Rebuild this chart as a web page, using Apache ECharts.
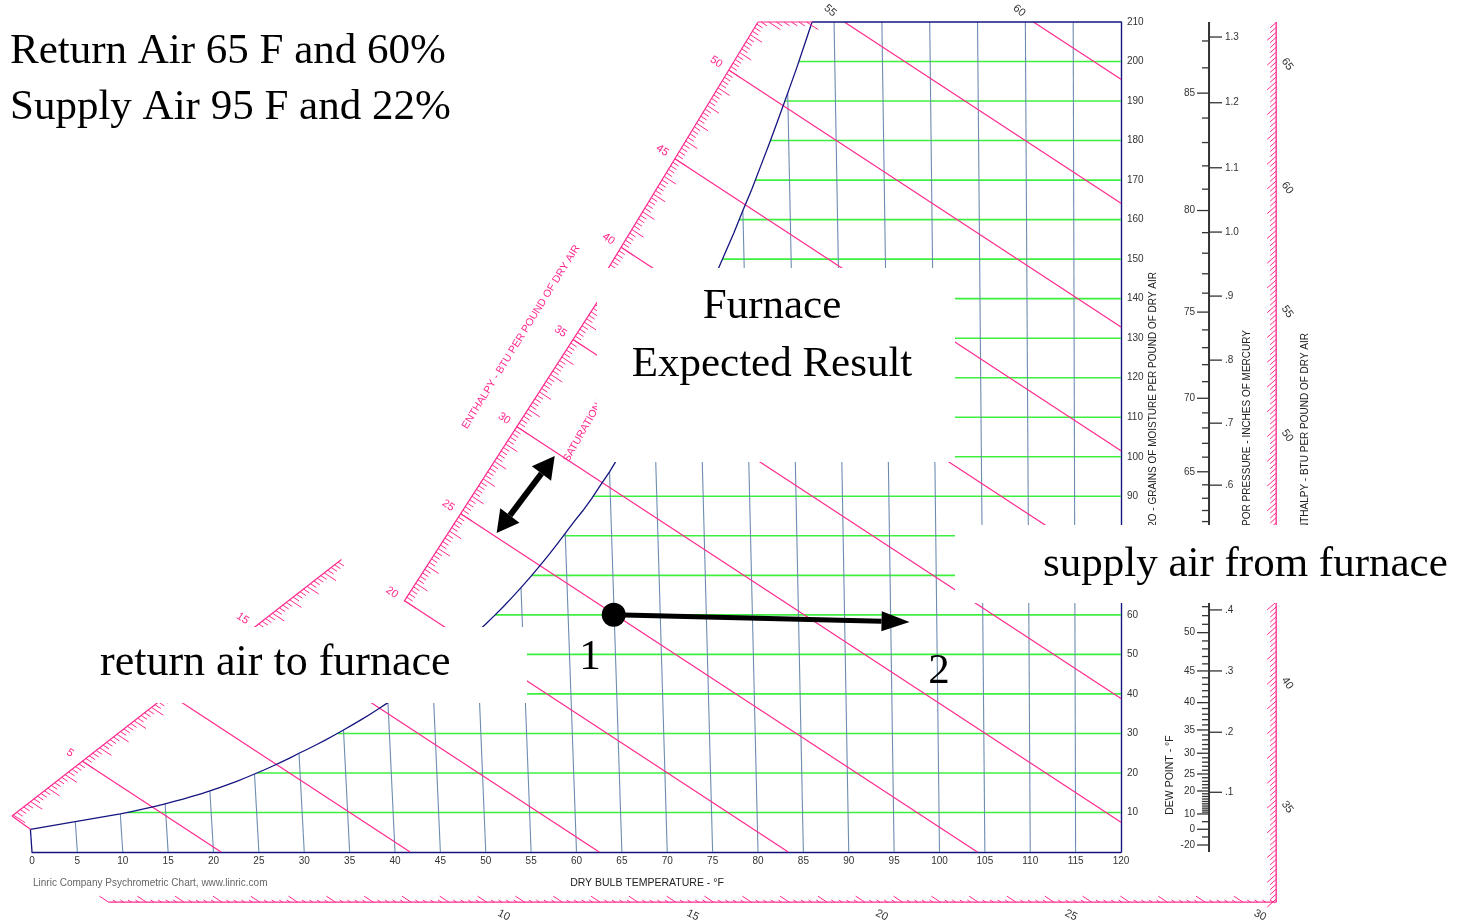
<!DOCTYPE html>
<html><head><meta charset="utf-8">
<script src="https://cdn.jsdelivr.net/npm/echarts@6/dist/echarts.min.js"></script>
<style>html,body{margin:0;padding:0;background:#fff}#c{width:1462px;height:922px}</style>
</head><body><div id="c"></div>
<script>
// ------------------------- DATA -------------------------
const dryBulbTicks = [0,5,10,15,20,25,30,35,40,45,50,55,60,65,70,75,80,85,90,95,100,105,110,115,120];
const grainTicks = [10,20,30,40,50,60,70,80,90,100,110,120,130,140,150,160,170,180,190,200,210];
const dryBulbLines = [5,10,15,20,25,30,35,40,45,50,55,60,65,70,75,80,85,90,95,100,105,110,115];
const grainLines = [10,20,30,40,50,60,70,80,90,100,110,120,130,140,150,160,170,180,190,200];
const enthalpyLines = [5,10,15,20,25,30,35,40,45,50,55,60];
const enthalpyScaleLabels = [5,10,15,20,25,30,35,40,45,50];
const enthalpyTopLabels = [55,60];
const enthalpyRightLabels = [35,40,45,50,55,60,65];
const enthalpyBottomLabels = [10,15,20,25,30];
// saturation (dew point) temperatures and saturation grains
const satTemps = [-20,-10,0,5,10,11,12,13,14,15,16,17,18,19,20,21,22,23,24,25,26,27,28,29,30,31,32,33,34,35,36,37,38,39,40,41,42,43,44,45,46,47,48,49,50,51,52,53,54,55,56,57,58,59,60,61,62,63,64,65,66,67,68,69,70,71,72,73,74,75,76,77,78,79,80,81,82,83,84,85,86,87];
const satGrains = [1.77,3.80,5.75,7.67,9.62,10.09,10.58,11.09,11.63,12.19,12.78,13.40,14.05,14.73,15.44,16.22,17.03,17.89,18.79,19.74,20.69,21.69,22.73,23.83,24.98,26.06,27.19,28.37,29.60,30.88,32.15,33.48,34.86,36.29,37.79,39.27,40.81,42.41,44.07,45.81,47.60,49.46,51.39,53.40,55.50,57.61,59.80,62.07,64.43,66.88,69.42,72.06,74.80,77.64,80.59,83.6,86.4,89.5,92.9,96.2,99.9,103.4,107.3,111.1,114.8,119.0,123.3,127.6,132.1,136.6,141.4,146.3,151.5,156.7,162.3,167.7,173.6,179.5,185.7,192.0,198.4,205.2];
const satTop = [87.7, 210];
const dewLabels = [-20,0,10,20,25,30,35,40,45,50,55,60,65,70,75,80,85];
const vaporLabels = ['.1','.2','.3','.4','.5','.6','.7','.8','.9','1.0','1.1','1.2','1.3'];
const vaporGrains = [15.11,30.30,45.81,61.25,76.9,92.81,108.50,124.45,140.65,156.85,173.12,189.57,206.20];
// enthalpy scale segments (dry bulb axis units, grains)
const enthalpyScaleSegments = [
  [[-2.2, 9.1],[34.1, 74.0]],
  [[41.0, 63.4],[63.6, 143.8]],
  [[63.4, 147.3],[80.0, 210]],
  [[80.0, 210],[86.0, 210]]
];
const rightScaleDB = 137.1, bottomScaleGrains = -12.7, vaporScaleDB = 129.7;
// annotation states
const returnAir = [64.1, 60.0];
const supplyArrowEnd = [96.7, 58.2];
const doubleArrow = [[51.2, 80.7],[57.6, 100.2]];

// ------------------------- GEOMETRY -------------------------
const K_ENTH = 0.665;   // dry-bulb units per grain along an enthalpy line
const LEAN = 0.000257;  // lean of dry bulb lines
const dbPoint = (T, W) => [T - LEAN * (120 - T) * W, W];
const enthAtW = (h, W) => [h / 0.24 - K_ENTH * W, W];
const hOf = p => 0.24 * (p[0] + K_ENTH * p[1]);

const PINK = '#ff2a8f', GREEN = '#3ef03e', BLUE = '#6d8db0', NAVY = '#141480', DARK = '#333';
const SANS = '"Liberation Sans", Arial, sans-serif';
const SERIF = '"Liberation Serif", "Times New Roman", serif';

function satPoints() {
  const pts = [];
  satTemps.forEach((T, i) => { if (T >= 0) pts.push(dbPoint(T, satGrains[i])); });
  pts.push(dbPoint(satTop[0], satTop[1]));
  return pts;
}
function satXAt(pts, g) {
  for (let i = 0; i < pts.length - 1; i++) {
    const a = pts[i], b = pts[i + 1];
    if (a[1] <= g && b[1] >= g) { const t = (g - a[1]) / (b[1] - a[1]); return a[0] + t * (b[0] - a[0]); }
  }
  return pts[pts.length - 1][0];
}
function scalePoint(h) {
  for (const s of enthalpyScaleSegments) {
    const h0 = hOf(s[0]), h1 = hOf(s[1]);
    if (h >= h0 - 1e-6 && h <= h1 + 1e-6) {
      const t = (h - h0) / (h1 - h0);
      return [s[0][0] + t * (s[1][0] - s[0][0]), s[0][1] + t * (s[1][1] - s[0][1])];
    }
  }
  return null;
}
function helpers(api) {
  const ch = [];
  const C = p => api.coord(p);
  const L = (a, b, s, w) => ch.push({ type: 'line', silent: true, shape: { x1: a[0], y1: a[1], x2: b[0], y2: b[1] }, style: { stroke: s, lineWidth: w } });
  const T = (x, y, text, fill, rot, align, valign, size) => ch.push({ type: 'text', silent: true, x: x, y: y, rotation: rot || 0,
    style: { text: String(text), fill: fill, font: (size || 10) + 'px ' + SANS, textAlign: align || 'center', textVerticalAlign: valign || 'middle' } });
  return { ch, C, L, T };
}
function enthDir(C) {
  const a = C(enthAtW(30, 0)), b = C(enthAtW(30, 40));
  const dx = a[0] - b[0], dy = a[1] - b[1], n = Math.hypot(dx, dy);
  return [dx / n, dy / n];
}

function renderGrid(params, api) {
  const { ch, C, L } = helpers(api);
  const pts = satPoints();
  grainLines.forEach(g => L(C([satXAt(pts, g), g]), C([120, g]), GREEN, 1.6));
  dryBulbLines.forEach(Tdb => {
    const i = satTemps.indexOf(Tdb);
    const W = (i >= 0) ? Math.min(satGrains[i], 210) : 210;
    L(C([Tdb, 0]), C(dbPoint(Tdb, W)), BLUE, 1.1);
  });
  enthalpyLines.forEach(h => {
    const start = scalePoint(h) || enthAtW(h, 210);
    const w120 = (h / 0.24 - 120) / K_ENTH;
    const end = w120 >= 0 ? [120, w120] : [h / 0.24, 0];
    L(C(start), C(end), PINK, 1.2);
  });
  ch.push({ type: 'polyline', silent: true, shape: { points: pts.map(C) }, style: { stroke: NAVY, lineWidth: 1.3, fill: null } });
  L(C([0, 0]), C(pts[0]), NAVY, 1.3);
  L(C(pts[pts.length - 1]), C([120, 210]), NAVY, 1.3);
  return { type: 'group', children: ch };
}

function renderScales(params, api) {
  const { ch, C, L, T } = helpers(api);
  const d = enthDir(C);
  const pts = satPoints();
  // left enthalpy scale
  enthalpyScaleSegments.forEach(seg => {
    const p0 = seg[0], p1 = seg[1];
    L(C(p0), C(p1), PINK, 1.2);
    const h0 = hOf(p0), h1 = hOf(p1);
    for (let k = Math.ceil(h0 * 5 - 1e-6); k <= Math.floor(h1 * 5 + 1e-6); k++) {
      const t = (k / 5 - h0) / (h1 - h0);
      const p = C([p0[0] + t * (p1[0] - p0[0]), p0[1] + t * (p1[1] - p0[1])]);
      const len = k % 5 === 0 ? 14 : 7;
      L(p, [p[0] + d[0] * len, p[1] + d[1] * len], PINK, 1);
    }
  });
  L(C(enthalpyScaleSegments[0][0]), C(pts[0]), PINK, 1.2);
  enthalpyScaleLabels.forEach(h => {
    const p = C(scalePoint(h));
    T(p[0] - d[0] * 15, p[1] - d[1] * 15, h, PINK, -0.6, 'center', 'middle', 11);
  });
  enthalpyTopLabels.forEach(h => {
    const p = C(enthAtW(h, 210));
    T(p[0] - d[0] * 17, p[1] - d[1] * 17 - 2, h, DARK, -0.7, 'center', 'middle', 11);
  });
  // right enthalpy scale
  const r0 = [rightScaleDB, bottomScaleGrains], r1 = [rightScaleDB, 210];
  L(C(r0), C(r1), PINK, 1.3);
  const rd = [-0.751, 0.661];
  for (let k = Math.ceil(hOf(r0) * 5); k <= Math.floor(hOf(r1) * 5); k++) {
    const h = k / 5;
    const p = C([rightScaleDB, (h / 0.24 - rightScaleDB) / K_ENTH]);
    const len = k % 5 === 0 ? 12 : 8;
    L(p, [p[0] + rd[0] * len, p[1] + rd[1] * len], PINK, 1);
  }
  enthalpyRightLabels.forEach(h => {
    const p = C([rightScaleDB, (h / 0.24 - rightScaleDB) / K_ENTH]);
    T(p[0] + 11, p[1] + 7, h, DARK, -0.95, 'center', 'middle', 11);
  });
  // bottom enthalpy scale
  const b0 = enthAtW(0, bottomScaleGrains);
  L(C(b0), C(r0), PINK, 1.3);
  for (let k = 0; k <= Math.floor(hOf(r0) * 5); k++) {
    const p = C(enthAtW(k / 5, bottomScaleGrains));
    const len = k % 5 === 0 ? 11 : 4;
    L(p, [p[0] - d[0] * len, p[1] - d[1] * len], PINK, 1);
  }
  enthalpyBottomLabels.forEach(h => {
    const p = C(enthAtW(h, bottomScaleGrains));
    T(p[0] + 17, p[1] + 13, h, DARK, -0.45, 'center', 'middle', 11);
  });
  // vapour pressure / dew point scale
  L(C([vaporScaleDB, 0]), C([vaporScaleDB, 210]), DARK, 2);
  satTemps.forEach((Td, i) => {
    const p = C([vaporScaleDB, satGrains[i]]);
    const major = dewLabels.indexOf(Td) >= 0;
    L([p[0] - (major ? 12 : 7), p[1]], [p[0], p[1]], DARK, 1.3);
    if (major) T(p[0] - 14, p[1], Td, DARK, 0, 'right');
  });
  vaporLabels.forEach((lab, i) => {
    const p = C([vaporScaleDB, vaporGrains[i]]);
    L(p, [p[0] + 13, p[1]], DARK, 1.3);
    T(p[0] + 16, p[1], lab, DARK, 0, 'left');
  });
  return { type: 'group', children: ch };
}

function arrowShapes(ch, a, b, lw, hl, hw, both) {
  const dx = b[0] - a[0], dy = b[1] - a[1], n = Math.hypot(dx, dy);
  const u = [dx / n, dy / n], nv = [-u[1], u[0]];
  const head = (tip, dir) => {
    const base = [tip[0] - dir[0] * hl, tip[1] - dir[1] * hl];
    ch.push({ type: 'polygon', shape: { points: [tip, [base[0] + nv[0] * hw / 2, base[1] + nv[1] * hw / 2], [base[0] - nv[0] * hw / 2, base[1] - nv[1] * hw / 2]] }, style: { fill: '#000' } });
    return base;
  };
  const e = head(b, u);
  const s = both ? head(a, [-u[0], -u[1]]) : a;
  ch.push({ type: 'line', shape: { x1: s[0], y1: s[1], x2: e[0], y2: e[1] }, style: { stroke: '#000', lineWidth: lw } });
}
function renderAnnotations(params, api) {
  const { ch, C } = helpers(api);
  const p1 = C(returnAir), p2 = C(supplyArrowEnd);
  arrowShapes(ch, p1, p2, 5, 28, 20, false);
  ch.push({ type: 'circle', shape: { cx: p1[0], cy: p1[1], r: 12 }, style: { fill: '#000' } });
  arrowShapes(ch, C(doubleArrow[0]), C(doubleArrow[1]), 6, 22, 24, true);
  return { type: 'group', children: ch };
}

// ------------------------- CHART -------------------------
const chart = echarts.init(document.getElementById('c'), null, { renderer: 'canvas' });
const txt = (x, y, text, size, align) => ({
  type: 'text', x: x, y: y, z: 101, silent: true,
  style: { text: text, fill: '#000', font: size + 'px ' + SERIF, textAlign: align || 'left', textVerticalAlign: 'middle' }
});
const smallTxt = (x, y, text, fill, rot, align, size) => ({
  type: 'text', x: x, y: y, rotation: rot || 0, z: 101, silent: true,
  style: { text: text, fill: fill, font: (size || 10.5) + 'px ' + SANS, textAlign: align || 'left', textVerticalAlign: 'middle' }
});
const box = (x, y, w, h) => ({ type: 'rect', z: 100, silent: true, shape: { x: x, y: y, width: w, height: h }, style: { fill: '#fff' } });

chart.setOption({
  animation: false,
  backgroundColor: '#fff',
  grid: { left: 32, right: 341, top: 22, bottom: 70 },
  xAxis: {
    type: 'value', min: 0, max: 120, interval: 5,
    axisLine: { show: true, onZero: false, lineStyle: { color: NAVY, width: 1.4 } },
    axisTick: { show: false }, splitLine: { show: false },
    axisLabel: { customValues: dryBulbTicks, margin: 4, color: DARK, fontSize: 10, fontFamily: 'Liberation Sans' }
  },
  yAxis: {
    type: 'value', min: 0, max: 210, interval: 10, position: 'right',
    axisLine: { show: true, onZero: false, lineStyle: { color: NAVY, width: 1.4 } },
    axisTick: { show: false }, splitLine: { show: false },
    axisLabel: { customValues: grainTicks, margin: 6, color: DARK, fontSize: 10, fontFamily: 'Liberation Sans',
      formatter: v => grainTicks.indexOf(v) >= 0 ? String(v) : '' }
  },
  series: [
    { type: 'custom', renderItem: renderGrid, data: [[0, 0]], z: 2, silent: true, clip: false },
    { type: 'custom', renderItem: renderScales, data: [[0, 0]], z: 3, silent: true, clip: false },
    { type: 'custom', renderItem: renderAnnotations, data: [[0, 0]], z: 50, silent: true, clip: false }
  ],
  graphic: { elements: [
    box(597, 268, 358, 194),
    box(955, 525, 507, 78),
    box(0, 627, 527, 76),
    smallTxt(647, 883, 'DRY BULB TEMPERATURE - °F', '#222', 0, 'center', 10.5),
    smallTxt(33, 883, 'Linric Company Psychrometric Chart, www.linric.com', '#666', 0, 'left', 10),
    Object.assign(smallTxt(1153, 272, 'H2O - GRAINS OF MOISTURE PER POUND OF DRY AIR', '#222', Math.PI / 2, 'right', 10), { z: 99 }),
    Object.assign(smallTxt(1247, 330, 'VAPOR PRESSURE - INCHES OF MERCURY', '#222', Math.PI / 2, 'right', 10), { z: 99 }),
    Object.assign(smallTxt(1305, 333, 'ENTHALPY - BTU PER POUND OF DRY AIR', '#222', Math.PI / 2, 'right', 10), { z: 99 }),
    smallTxt(1170, 775, 'DEW POINT - °F', '#222', Math.PI / 2, 'center', 10.5),
    smallTxt(521, 337, 'ENTHALPY - BTU PER POUND OF DRY AIR', PINK, 1.015, 'center', 10.5),
    Object.assign(smallTxt(566, 461, 'SATURATION TEMPERATURE - °F', PINK, 1.05, 'left', 10.5), { z: 99 }),
    txt(10, 52, 'Return Air 65 F and 60%', 43),
    txt(10, 108, 'Supply Air 95 F and 22%', 43),
    txt(772, 307, 'Furnace', 43, 'center'),
    txt(772, 365, 'Expected Result', 43, 'center'),
    txt(1043, 565, 'supply air from furnace', 43),
    txt(100, 663, 'return air to furnace', 44),
    txt(590, 658, '1', 43, 'center'),
    txt(939, 672, '2', 43, 'center')
  ] }
});
</script>
</body></html>
